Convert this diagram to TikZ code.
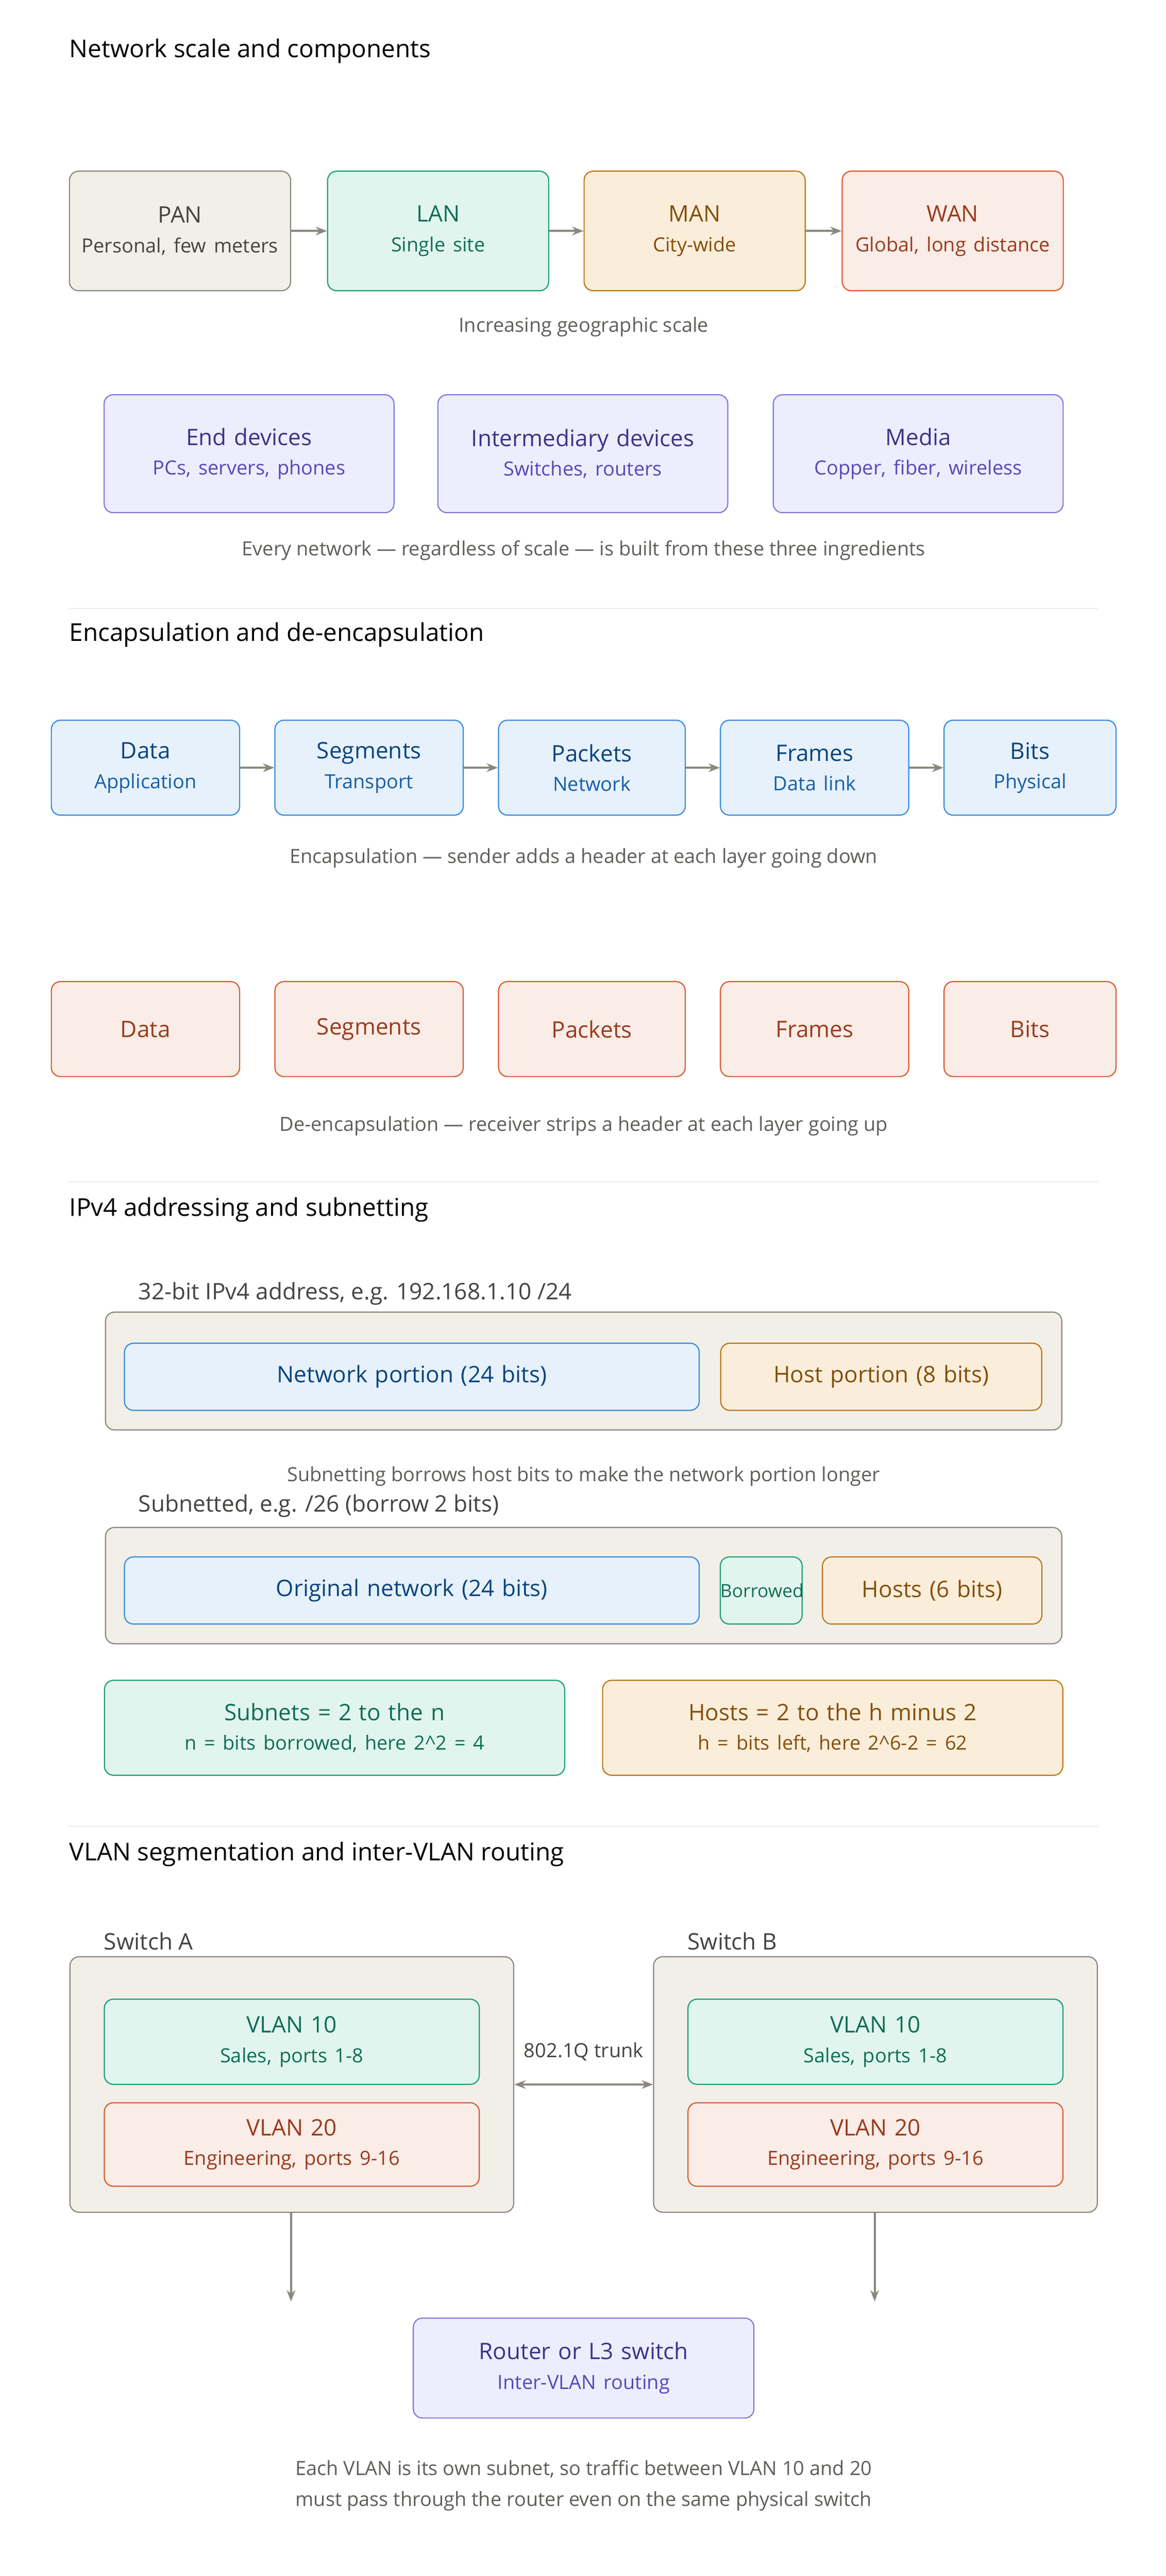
\documentclass[tikz,border=0pt]{standalone}
\usepackage{fontspec}
\setmainfont{Open Sans}
\usetikzlibrary{arrows.meta,positioning,calc}
\definecolor{grayfill}{HTML}{F1EFE8}\definecolor{graydraw}{HTML}{8A877F}\definecolor{graytext}{HTML}{444441}
\definecolor{greenfill}{HTML}{E1F5EE}\definecolor{greendraw}{HTML}{1D9E75}\definecolor{greentext}{HTML}{0F6E56}
\definecolor{amberfill}{HTML}{FAEEDA}\definecolor{amberdraw}{HTML}{BA7517}\definecolor{ambertext}{HTML}{854F0B}
\definecolor{coralfill}{HTML}{FAECE7}\definecolor{coraldraw}{HTML}{D85A30}\definecolor{coraltext}{HTML}{993C1D}
\definecolor{purplefill}{HTML}{EEEDFE}\definecolor{purpledraw}{HTML}{7F77DD}\definecolor{purpletext}{HTML}{3C3489}\definecolor{purplesub}{HTML}{534AB7}
\definecolor{bluefill}{HTML}{E6F1FB}\definecolor{bluedraw}{HTML}{378ADD}\definecolor{bluetext}{HTML}{0C447C}\definecolor{bluesub}{HTML}{185FA5}
\definecolor{captext}{HTML}{5F5E5A}
\tikzset{
  box/.style={draw, rounded corners=4pt, align=center, line width=0.5pt, inner sep=0pt},
  grybox/.style={box, fill=grayfill, draw=graydraw, text=graytext},
  grnbox/.style={box, fill=greenfill, draw=greendraw, text=greentext},
  ambbox/.style={box, fill=amberfill, draw=amberdraw, text=ambertext},
  corbox/.style={box, fill=coralfill, draw=coraldraw, text=coraltext},
  purbox/.style={box, fill=purplefill, draw=purpledraw, text=purpletext},
  blubox/.style={box, fill=bluefill, draw=bluedraw, text=bluetext},
  title/.style={anchor=west, inner sep=0pt, font=\fontsize{10.8}{13}\selectfont, text=black},
  label/.style={anchor=west, inner sep=0pt, font=\fontsize{10}{12}\selectfont, text=graytext},
  caption/.style={font=\fontsize{8.6}{13.5}\selectfont, text=captext, align=center},
  arrow/.style={-{Stealth[length=5pt]}, draw=graydraw, line width=0.9pt},
  sep/.style={draw=black!8, line width=0.5pt},
}
\newcommand{\bt}[2]{{\fontsize{10}{12}\selectfont #1}\\[1pt]{\fontsize{8.6}{11}\selectfont #2}}
\begin{document}
\begin{tikzpicture}[x=0.0254cm, y=-0.0254cm]
  \useasboundingbox[fill=white] (0,0) rectangle (709,1567);
  % Network scale
  \node[title] at (42,31) {Network scale and components};
  \node[grybox, text width=135*0.72pt, minimum height=73*0.72pt] (pan) at (109.5,140.5) {\bt{PAN}{Personal, few meters}};
  \node[grnbox, text width=135*0.72pt, minimum height=73*0.72pt] (lan) at (266.5,140.5) {\bt{LAN}{Single site}};
  \node[ambbox, text width=135*0.72pt, minimum height=73*0.72pt] (man) at (422.5,140.5) {\bt{MAN}{City-wide}};
  \node[corbox, text width=135*0.72pt, minimum height=73*0.72pt] (wan) at (579.5,140.5) {\bt{WAN}{Global, long distance}};
  \draw[arrow] (pan) -- (lan);
  \draw[arrow] (lan) -- (man);
  \draw[arrow] (man) -- (wan);
  \node[caption] (scalecap) at (355,199) {Increasing geographic scale};
  \node[purbox, text width=177*0.72pt, minimum height=72*0.72pt] (enddev) at (151.5,276) {\bt{End devices}{\color{purplesub}PCs, servers, phones}};
  \node[purbox, text width=177*0.72pt, minimum height=72*0.72pt] (interdev) at (354.5,276) {\bt{Intermediary devices}{\color{purplesub}Switches, routers}};
  \node[purbox, text width=177*0.72pt, minimum height=72*0.72pt] (media) at (558.5,276) {\bt{Media}{\color{purplesub}Copper, fiber, wireless}};
  \node[caption] (ingrcap) at (355,335) {Every network — regardless of scale — is built from these three ingredients};
  \draw[sep] (42,370) -- (668,370);
  % Encapsulation
  \node[title] at (42,386) {Encapsulation and de-encapsulation};
  \foreach \n/\t/\s/\x/\w in {data/Data/Application/88.5/115, seg/Segments/Transport/224.5/115, pkt/Packets/Network/360/114, frm/Frames/Data link/495.5/115, bit/Bits/Physical/626.5/105}{
    \node[blubox, text width=\w*0.72pt, minimum height=58*0.72pt] (enc\n) at (\x,467) {\bt{\t}{\color{bluesub}\s}};
    \node[corbox, text width=\w*0.72pt, minimum height=58*0.72pt, font=\fontsize{10}{12}\selectfont] (dec\n) at (\x,626) {\t};
  }
  \draw[arrow] (encdata) -- (encseg);
  \draw[arrow] (encseg) -- (encpkt);
  \draw[arrow] (encpkt) -- (encfrm);
  \draw[arrow] (encfrm) -- (encbit);
  \node[caption] (enccap) at (355,522) {Encapsulation — sender adds a header at each layer going down};
  \node[caption] (deccap) at (355,685) {De-encapsulation — receiver strips a header at each layer going up};
  \draw[sep] (42,719) -- (668,719);
  % IPv4
  \node[title] at (42,736) {IPv4 addressing and subnetting};
  \node[label] at (84,787) {32-bit IPv4 address, e.g. 192.168.1.10 /24};
  \node[grybox, text width=584*0.72pt, minimum height=72*0.72pt] (addr) at (355,834) {};
  \node[blubox, text width=351*0.72pt, minimum height=41*0.72pt, font=\fontsize{10}{12}\selectfont] (netpart) at (250.5,837.5) {Network portion (24 bits)};
  \node[ambbox, text width=196*0.72pt, minimum height=41*0.72pt, font=\fontsize{10}{12}\selectfont] (hostpart) at (536,837.5) {Host portion (8 bits)};
  \node[caption] (borrowcap) at (355,898) {Subnetting borrows host bits to make the network portion longer};
  \node[label] at (84,916) {Subnetted, e.g. /26 (borrow 2 bits)};
  \node[grybox, text width=584*0.72pt, minimum height=71*0.72pt] (subaddr) at (355,964.5) {};
  \node[blubox, text width=351*0.72pt, minimum height=41*0.72pt, font=\fontsize{10}{12}\selectfont] (orignet) at (250.5,967.5) {Original network (24 bits)};
  \node[grnbox, text width=50*0.72pt, minimum height=41*0.72pt, font=\fontsize{8}{10}\selectfont] (borrowed) at (463,967.5) {Borrowed};
  \node[ambbox, text width=134*0.72pt, minimum height=41*0.72pt, font=\fontsize{10}{12}\selectfont] (hostbits) at (567,967.5) {Hosts (6 bits)};
  \node[grnbox, text width=281*0.72pt, minimum height=58*0.72pt] (subnets) at (203.5,1051) {\bt{Subnets = 2 to the n}{n = bits borrowed, here 2\textasciicircum 2 = 4}};
  \node[ambbox, text width=281*0.72pt, minimum height=58*0.72pt] (hosts) at (506.5,1051) {\bt{Hosts = 2 to the h minus 2}{h = bits left, here 2\textasciicircum 6-2 = 62}};
  \draw[sep] (42,1111) -- (668,1111);
  % VLAN
  \node[title] at (42,1128) {VLAN segmentation and inter-VLAN routing};
  \node[label] at (63,1181) {Switch A};
  \node[grybox, text width=271*0.72pt, minimum height=156*0.72pt] (swa) at (177.5,1268) {};
  \node[grnbox, text width=229*0.72pt, minimum height=52*0.72pt] (swa10) at (177.5,1242) {\bt{VLAN 10}{Sales, ports 1-8}};
  \node[corbox, text width=229*0.72pt, minimum height=51*0.72pt] (swa20) at (177.5,1304.5) {\bt{VLAN 20}{Engineering, ports 9-16}};
  \node[label] at (418,1181) {Switch B};
  \node[grybox, text width=271*0.72pt, minimum height=156*0.72pt] (swb) at (532.5,1268) {};
  \node[grnbox, text width=229*0.72pt, minimum height=52*0.72pt] (swb10) at (532.5,1242) {\bt{VLAN 10}{Sales, ports 1-8}};
  \node[corbox, text width=229*0.72pt, minimum height=51*0.72pt] (swb20) at (532.5,1304.5) {\bt{VLAN 20}{Engineering, ports 9-16}};
  \draw[arrow, {Stealth[length=5pt]}-{Stealth[length=5pt]}] (swa.east |- 0,1268) -- (swb.west |- 0,1268);
  \node[caption, text=graytext] (trunk) at (355,1248) {802.1Q trunk};
  \node[purbox, text width=208*0.72pt, minimum height=61*0.72pt] (router) at (355,1440.5) {\bt{Router or L3 switch}{\color{purplesub}Inter-VLAN routing}};
  \coordinate (enda) at (177,1400);
  \coordinate (endb) at (532,1400);
  \draw[arrow] (swa.south -| enda) -- (enda);
  \draw[arrow] (swb.south -| endb) -- (endb);
  \node[caption] (vlancap) at (355,1512) {Each VLAN is its own subnet, so traffic between VLAN 10 and 20\\must pass through the router even on the same physical switch};
\end{tikzpicture}
\end{document}
